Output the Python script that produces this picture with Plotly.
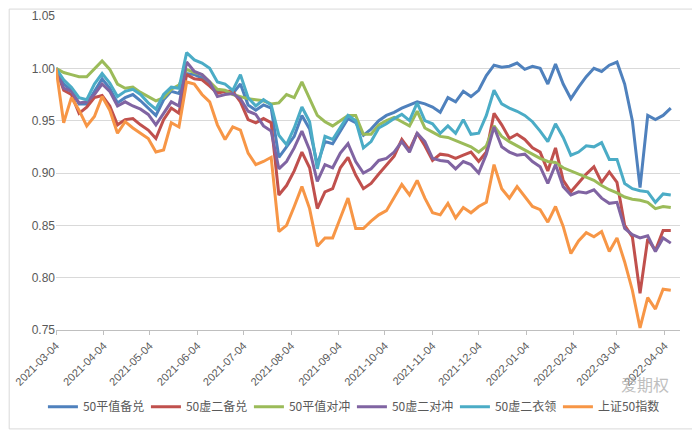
import pandas as pd
import plotly.graph_objects as go

# x grid: one reading every 5 calendar days from 2021-03-04
dates = pd.date_range('2021-03-04', periods=81, freq='5D')

names = ['50平值备兑', '50虚二备兑', '50平值对冲', '50虚二对冲', '50虚二衣领', '上证50指数']
colors = ['#4F81BD', '#C0504D', '#9BBB59', '#8064A2', '#4BACC6', '#F79646']

blue = [1.000, 0.985, 0.979, 0.966, 0.966, 0.978, 0.990, 0.981, 0.967, 0.972,
        0.975, 0.969, 0.962, 0.955, 0.970, 0.978, 0.976, 0.995, 0.994, 0.991,
        0.985, 0.978, 0.978, 0.976, 0.985, 0.965, 0.960, 0.965, 0.962, 0.915,
        0.925, 0.935, 0.955, 0.942, 0.908, 0.930, 0.928, 0.940, 0.952, 0.948,
        0.936, 0.942, 0.950, 0.955, 0.958, 0.962, 0.965, 0.968, 0.966, 0.963,
        0.958, 0.972, 0.968, 0.978, 0.973, 0.979, 0.993, 1.003, 1.001, 1.002,
        1.005, 0.999, 1.002, 1.000, 0.985, 1.004, 0.985, 0.971, 0.982, 0.992,
        1.000, 0.997, 1.003, 1.006, 0.985, 0.950, 0.886, 0.955, 0.951, 0.955,
        0.962]

red = [1.000, 0.979, 0.975, 0.957, 0.963, 0.972, 0.974, 0.964, 0.946, 0.951,
       0.952, 0.946, 0.941, 0.933, 0.951, 0.962, 0.957, 0.994, 0.990, 0.989,
       0.983, 0.976, 0.978, 0.978, 0.968, 0.951, 0.948, 0.952, 0.948, 0.879,
       0.888, 0.902, 0.920, 0.905, 0.866, 0.882, 0.885, 0.905, 0.915, 0.898,
       0.885, 0.890, 0.899, 0.908, 0.916, 0.932, 0.922, 0.938, 0.926, 0.912,
       0.918, 0.917, 0.914, 0.917, 0.920, 0.911, 0.920, 0.957, 0.946, 0.933,
       0.937, 0.932, 0.924, 0.920, 0.902, 0.924, 0.893, 0.882, 0.891, 0.899,
       0.906, 0.891, 0.901, 0.891, 0.850, 0.839, 0.785, 0.837, 0.826, 0.845,
       0.845]

green = [1.000, 0.996, 0.994, 0.992, 0.992, 0.999, 1.007, 0.999, 0.985, 0.981,
         0.982, 0.977, 0.973, 0.969, 0.972, 0.980, 0.984, 0.999, 0.996, 0.994,
         0.987, 0.980, 0.979, 0.975, 0.973, 0.971, 0.970, 0.969, 0.966, 0.967,
         0.975, 0.972, 0.987, 0.971, 0.955, 0.949, 0.945, 0.950, 0.955, 0.955,
         0.937, 0.937, 0.946, 0.950, 0.953, 0.949, 0.945, 0.959, 0.943, 0.939,
         0.935, 0.934, 0.931, 0.928, 0.925, 0.920, 0.926, 0.945, 0.935, 0.930,
         0.926, 0.922, 0.918, 0.914, 0.911, 0.910, 0.905, 0.902, 0.899, 0.896,
         0.893, 0.888, 0.884, 0.881, 0.877, 0.875, 0.874, 0.872, 0.866, 0.868,
         0.867]

purple = [1.000, 0.981, 0.978, 0.967, 0.968, 0.975, 0.985, 0.978, 0.964, 0.968,
          0.964, 0.961, 0.956, 0.946, 0.957, 0.968, 0.964, 1.006, 0.997, 0.994,
          0.987, 0.973, 0.975, 0.976, 0.971, 0.959, 0.956, 0.945, 0.940, 0.904,
          0.911, 0.924, 0.940, 0.922, 0.892, 0.908, 0.905, 0.919, 0.928, 0.911,
          0.900, 0.904, 0.912, 0.914, 0.920, 0.930, 0.920, 0.938, 0.930, 0.914,
          0.912, 0.911, 0.904, 0.911, 0.908, 0.900, 0.918, 0.944, 0.925, 0.920,
          0.917, 0.918, 0.911, 0.906, 0.890, 0.908, 0.887, 0.879, 0.882, 0.881,
          0.884, 0.876, 0.871, 0.872, 0.847, 0.841, 0.838, 0.840, 0.825, 0.838,
          0.833]

cyan = [1.000, 0.989, 0.982, 0.972, 0.970, 0.985, 0.995, 0.986, 0.973, 0.978,
        0.980, 0.975, 0.967, 0.961, 0.975, 0.982, 0.981, 1.015, 1.008, 1.005,
        1.000, 0.987, 0.985, 0.979, 0.994, 0.972, 0.964, 0.970, 0.965, 0.936,
        0.927, 0.943, 0.963, 0.949, 0.904, 0.935, 0.932, 0.943, 0.955, 0.950,
        0.924, 0.930, 0.943, 0.947, 0.952, 0.956, 0.950, 0.967, 0.950, 0.947,
        0.938, 0.945, 0.938, 0.951, 0.937, 0.938, 0.955, 0.979, 0.966, 0.962,
        0.959, 0.955, 0.949, 0.940, 0.930, 0.947, 0.934, 0.917, 0.920, 0.926,
        0.925, 0.929, 0.913, 0.913, 0.890, 0.885, 0.883, 0.882, 0.872, 0.880,
        0.879]

orange = [1.000, 0.948, 0.972, 0.960, 0.945, 0.954, 0.973, 0.960, 0.938, 0.949,
          0.943, 0.938, 0.933, 0.920, 0.922, 0.948, 0.944, 0.987, 0.985, 0.975,
          0.968, 0.946, 0.932, 0.944, 0.941, 0.919, 0.908, 0.911, 0.915, 0.844,
          0.850, 0.868, 0.887, 0.866, 0.830, 0.838, 0.838, 0.857, 0.876, 0.847,
          0.847, 0.854, 0.860, 0.864, 0.876, 0.889, 0.879, 0.893, 0.876, 0.862,
          0.860, 0.871, 0.857, 0.867, 0.862, 0.868, 0.872, 0.908, 0.885, 0.876,
          0.887, 0.877, 0.868, 0.865, 0.853, 0.868, 0.849, 0.823, 0.835, 0.843,
          0.839, 0.844, 0.825, 0.838, 0.815, 0.788, 0.752, 0.781, 0.770, 0.789,
          0.788]

tick_dates = ['2021-03-04', '2021-04-04', '2021-05-04', '2021-06-04', '2021-07-04',
              '2021-08-04', '2021-09-04', '2021-10-04', '2021-11-04', '2021-12-04',
              '2022-01-04', '2022-02-04', '2022-03-04', '2022-04-04']

series = [blue, red, green, purple, cyan, orange]

fig = go.Figure()
for name, vals, col in zip(names, series, colors):
    fig.add_trace(go.Scatter(x=dates, y=vals, name=name, mode='lines',
                             line=dict(color=col, width=3)))

# page body has an 8px margin, so the figure is 8px smaller each way
fig.update_layout(
    width=692, height=422,
    margin=dict(l=48, r=20, t=8, b=100),
    plot_bgcolor='white', paper_bgcolor='white',
    font=dict(family='Liberation Sans, Arial, sans-serif', color='#595959', size=11),
    legend=dict(orientation='h', xref='container', yref='container',
                x=0.497, xanchor='center', y=0.055, yanchor='middle',
                font=dict(family='Noto Sans CJK SC', size=12, color='#595959'),
                itemwidth=30, entrywidth=58, entrywidthmode='pixels',
                tracegroupgap=0),
    showlegend=True,
)
fig.update_xaxes(type='date', range=['2021-03-04', '2022-04-14'], automargin=False,
                 tickvals=tick_dates, ticktext=tick_dates, tickangle=-45,
                 showgrid=False, showline=True, linecolor='#bfbfbf', linewidth=1,
                 ticks='outside', ticklen=4, tickcolor='#bfbfbf',
                 tickfont=dict(size=11, color='#595959'))
fig.update_yaxes(range=[0.75, 1.05], dtick=0.05, tick0=0.75, tickformat='.2f',
                 automargin=False,
                 showgrid=True, gridcolor='#d9d9d9', gridwidth=1, zeroline=False,
                 showline=False, ticks='', tickfont=dict(size=12, color='#595959'))

# outer chart border
fig.add_shape(type='rect', xref='paper', yref='paper',
              x0=-0.075, x1=1.03, y0=-0.315, y1=1.022,
              line=dict(color='#d9d9d9', width=1))

# watermark
fig.add_annotation(text='爱期权', xref='paper', yref='paper', x=0.985, y=-0.215,
                   showarrow=False, font=dict(family='Noto Sans CJK SC', size=16, color='#b0b0b0'),
                   opacity=0.8)

fig.write_html("out.html")
